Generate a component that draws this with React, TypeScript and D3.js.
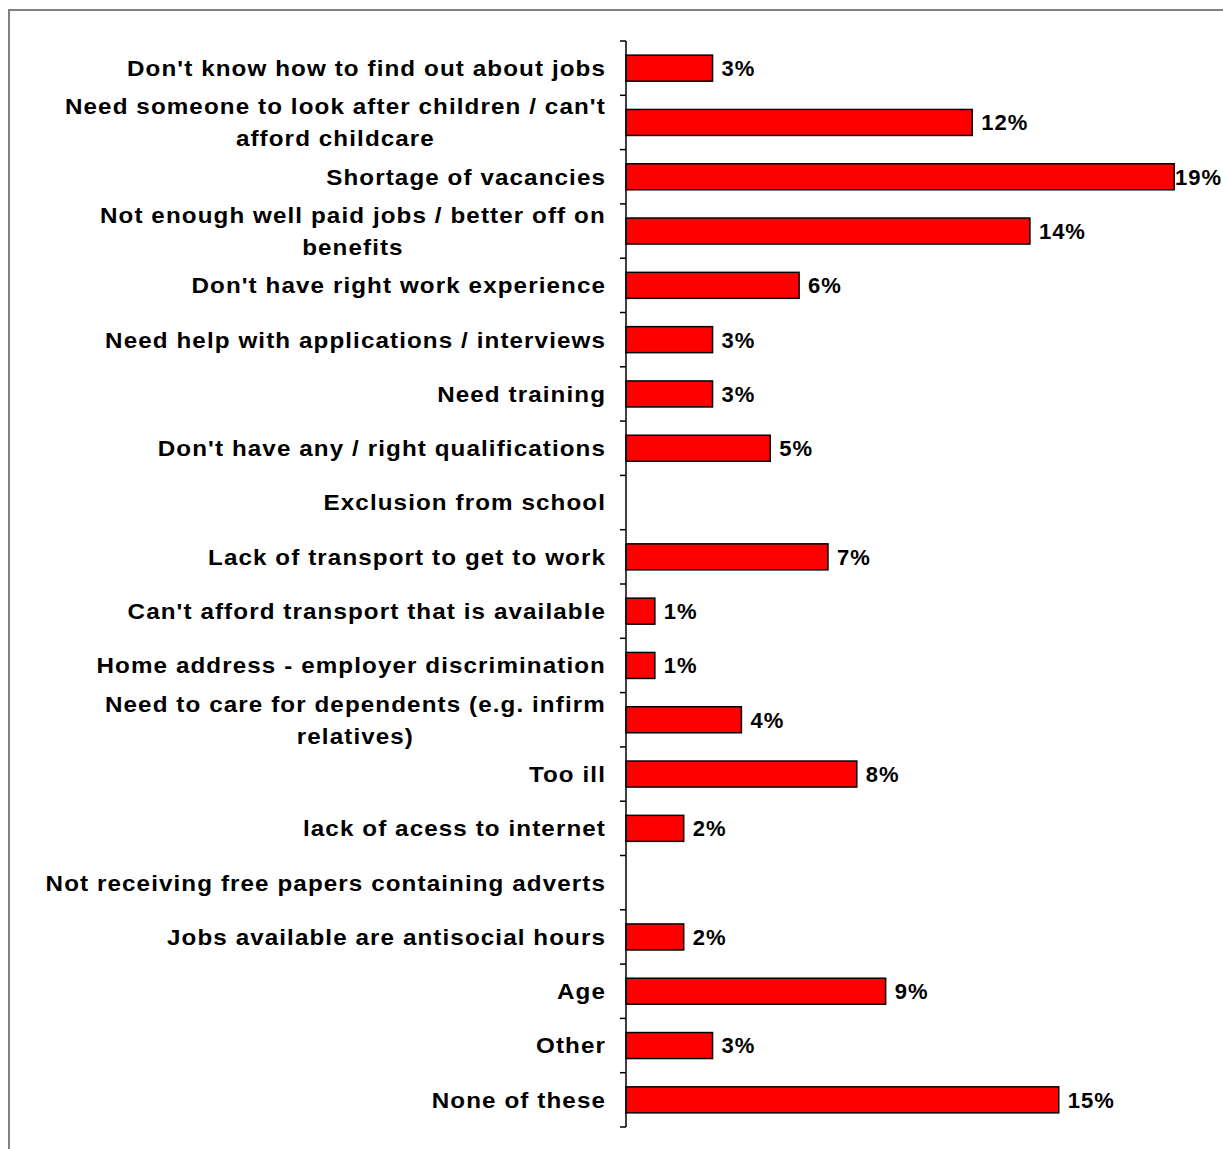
import React, { useEffect, useRef } from "react";
import * as d3 from "d3";

const categories: string[] = [
  "Don't know how to find out about jobs",
  "Need someone to look after children / can't|afford childcare",
  "Shortage of vacancies",
  "Not enough well paid jobs / better off on|benefits",
  "Don't have right work experience",
  "Need help with applications / interviews",
  "Need training",
  "Don't have any / right qualifications",
  "Exclusion from school",
  "Lack of transport to get to work",
  "Can't afford transport that is available",
  "Home address - employer discrimination",
  "Need to care for dependents (e.g. infirm|relatives)",
  "Too ill",
  "lack of acess to internet",
  "Not receiving free papers containing adverts",
  "Jobs available are antisocial hours",
  "Age",
  "Other",
  "None of these",
];

const values: number[] = [3, 12, 19, 14, 6, 3, 3, 5, 0, 7, 1, 1, 4, 8, 2, 0, 2, 9, 3, 15];

const W = 1223;
const H = 1149;

export default function App() {
  const ref = useRef<SVGSVGElement>(null);

  useEffect(() => {
    const svg = d3.select(ref.current);
    svg.selectAll("*").remove();

    const font = "'Liberation Sans', Arial, sans-serif";
    const fs = 22;
    const sx = 1.1;

    // frame
    svg.append("rect")
      .attr("x", 9).attr("y", 10)
      .attr("width", W + 20).attr("height", H + 20)
      .attr("fill", "none").attr("stroke", "#808080").attr("stroke-width", 2);

    const x = d3.scaleLinear().domain([0, 20]).range([626, 1203]);
    const y = d3.scaleBand<number>()
      .domain(d3.range(categories.length))
      .range([41, 1127]);

    const band = y.step();
    const barH = 26;

    // bars
    svg.append("g").selectAll("rect")
      .data(values.map((v, i) => ({ v, i })).filter(d => d.v > 0))
      .join("rect")
      .attr("x", x(0))
      .attr("y", d => (y(d.i) as number) + (band - barH) / 2)
      .attr("width", d => x(d.v) - x(0))
      .attr("height", barH)
      .attr("fill", "#FF0000")
      .attr("stroke", "#000")
      .attr("stroke-width", 1.5);

    // axis
    const ax = svg.append("g");
    ax.append("line")
      .attr("x1", 626).attr("x2", 626)
      .attr("y1", 41).attr("y2", 1127)
      .attr("stroke", "#000").attr("stroke-width", 1.5);
    ax.selectAll("line.tick")
      .data(d3.range(categories.length + 1))
      .join("line")
      .attr("class", "tick")
      .attr("x1", 620).attr("x2", 626)
      .attr("y1", i => 41 + band * i).attr("y2", i => 41 + band * i)
      .attr("stroke", "#000").attr("stroke-width", 1.5);

    // category labels
    const lg = svg.append("g")
      .attr("font-family", font).attr("font-size", fs).attr("font-weight", "bold")
      .attr("fill", "#000").attr("letter-spacing", "1px");
    categories.forEach((c, i) => {
      const cy = (y(i) as number) + band / 2;
      const lines = c.split("|");
      if (lines.length === 1) {
        lg.append("text")
          .attr("transform", `translate(606,${cy}) scale(${sx},1)`)
          .attr("dy", "0.36em")
          .attr("text-anchor", "end").text(c);
      } else {
        const texts = lines.map((ln) =>
          lg.append("text")
            .attr("dy", "0.36em")
            .attr("text-anchor", "middle")
            .text(ln)
        );
        const widths = texts.map(t => (t.node() as SVGTextElement).getComputedTextLength() * sx);
        const maxW = Math.max(...widths);
        texts.forEach((t, k) => {
          const ty = cy + (k - (lines.length - 1) / 2) * 32;
          t.attr("transform", `translate(${606 - maxW / 2},${ty}) scale(${sx},1)`);
        });
      }
    });

    // value labels
    const vg = svg.append("g")
      .attr("font-family", font).attr("font-size", fs).attr("font-weight", "bold")
      .attr("fill", "#000").attr("letter-spacing", "1px");
    values.forEach((v, i) => {
      if (v <= 0) return;
      const cy = (y(i) as number) + band / 2;
      const t = vg.append("text")
        .attr("y", cy).attr("dy", "0.36em")
        .text(`${v}%`);
      const w = (t.node() as SVGTextElement).getComputedTextLength();
      let tx = x(v) + 9;
      if (tx + w > W - 1) tx = W - 1 - w;
      t.attr("x", tx);
    });
  }, []);

  return (
    <svg
      ref={ref}
      width={W}
      height={H}
      style={{ position: "absolute", left: 0, top: 0, background: "#fff" }}
    />
  );
}
